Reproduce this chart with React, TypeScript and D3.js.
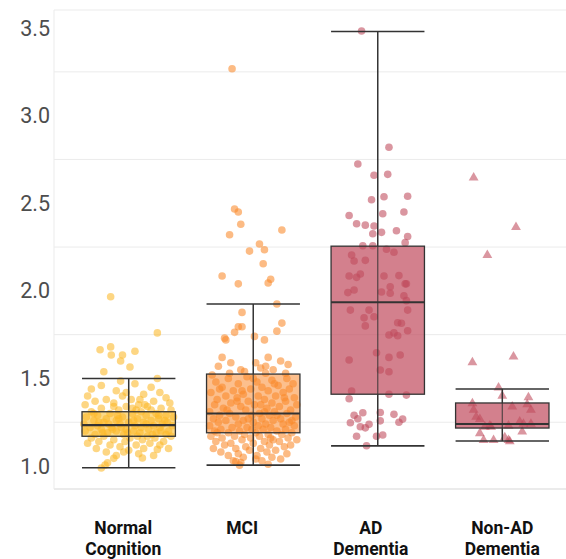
import React from "react";
import * as d3 from "d3";

// Diagnostic groups along the x axis
const categories = ["Normal Cognition", "MCI", "AD Dementia", "Non-AD Dementia"];
const labelLines = [["Normal", "Cognition"], ["MCI"], ["AD", "Dementia"], ["Non-AD", "Dementia"]];

// Box summaries per group: lower whisker, Q1, median, Q3, upper whisker
const whiskerLow = [0.99, 1.005, 1.115, 1.143];
const q1 = [1.17, 1.19, 1.41, 1.217];
const median = [1.234, 1.30, 1.935, 1.24];
const q3 = [1.31, 1.525, 2.255, 1.36];
const whiskerHigh = [1.50, 1.925, 3.48, 1.44];

const yTicks = [1.0, 1.5, 2.0, 2.5, 3.0, 3.5];
const yGrid = [1.25, 1.75, 2.25, 2.75, 3.25];

// Individual observations: [horizontal jitter (fraction of category step), value]
const normalPts: [number, number][] = [
  [-0.145, 1.966], [0.23, 1.76], [-0.145, 1.68], [-0.23, 1.664], [0.05, 1.655], [-0.14, 1.634],
  [-0.05, 1.634], [-0.065, 1.60], [0.01, 1.565], [-0.2, 1.538], [0.23, 1.50], [-0.065, 1.485],
  [0.23, 1.095], [0.11, 1.046], [-0.12, 1.044], [-0.17, 1.019], [-0.22, 0.989], [-0.19, 1.005],
  [-0.30, 1.44], [-0.22, 1.46], [0.05, 1.47], [0.18, 1.45], [-0.10, 1.43], [0.25, 1.42], [-0.33, 1.40],
  [0.12, 1.41], [-0.05, 1.40], [0.30, 1.39], [-0.18, 1.38], [0.02, 1.38], [0.20, 1.37], [-0.27, 1.37],
  [0.33, 1.36], [-0.12, 1.36], [0.08, 1.35], [-0.35, 1.35], [0.15, 1.34], [-0.02, 1.34], [0.26, 1.33],
  [-0.22, 1.33], [0.34, 1.32], [-0.08, 1.32], [0.10, 1.31], [-0.30, 1.31], [0.22, 1.30], [-0.15, 1.30],
  [0.03, 1.30], [0.30, 1.29], [-0.25, 1.29], [0.14, 1.29], [-0.05, 1.28], [0.36, 1.28], [-0.34, 1.28],
  [0.07, 1.27], [-0.18, 1.27], [0.24, 1.27], [-0.10, 1.26], [0.18, 1.26], [-0.28, 1.26], [0.31, 1.25],
  [0.00, 1.25], [-0.20, 1.25], [0.12, 1.25], [-0.36, 1.24], [0.27, 1.24], [-0.07, 1.24], [0.05, 1.23],
  [-0.25, 1.23], [0.20, 1.23], [0.35, 1.23], [-0.14, 1.22], [0.10, 1.22], [-0.31, 1.22], [0.25, 1.22],
  [-0.02, 1.21], [0.16, 1.21], [-0.22, 1.21], [0.32, 1.20], [-0.10, 1.20], [0.04, 1.20], [-0.35, 1.20],
  [0.22, 1.19], [-0.17, 1.19], [0.09, 1.19], [0.30, 1.18], [-0.27, 1.18], [-0.04, 1.18], [0.15, 1.17],
  [-0.20, 1.17], [0.34, 1.17], [0.01, 1.16], [-0.30, 1.16], [0.21, 1.16], [-0.12, 1.15], [0.11, 1.15],
  [0.28, 1.14], [-0.24, 1.14], [-0.03, 1.14], [0.17, 1.13], [-0.33, 1.13], [0.06, 1.12], [-0.15, 1.12],
  [0.25, 1.12], [-0.07, 1.11], [0.12, 1.10], [-0.26, 1.10], [0.32, 1.10], [0.00, 1.09], [-0.18, 1.08],
  [0.08, 1.07], [-0.10, 1.06], [0.20, 1.06], [-0.04, 1.08], [0.03, 1.33], [-0.08, 1.27], [0.14, 1.24],
  [-0.16, 1.24], [0.26, 1.20], [-0.28, 1.30], [0.18, 1.32], [-0.12, 1.34], [0.09, 1.38], [-0.02, 1.42],
  [0.29, 1.26], [-0.06, 1.22], [0.07, 1.17], [-0.21, 1.19], [0.24, 1.29], [-0.09, 1.29], [0.04, 1.26],
  [-0.13, 1.21], [0.19, 1.18], [-0.01, 1.19], [0.13, 1.35], [-0.24, 1.25], [0.06, 1.32],
];

const mciPts: [number, number][] = [
  [-0.17, 3.268], [-0.15, 2.467], [-0.12, 2.45], [-0.10, 2.38], [-0.19, 2.32], [0.23, 2.347], [0.05, 2.267],
  [0.09, 2.235], [-0.03, 2.227], [0.08, 2.155], [-0.25, 2.085], [0.14, 2.066], [0.12, 2.045], [-0.12, 2.04],
  [0.19, 1.925], [-0.09, 1.877], [0.23, 1.816], [-0.12, 1.795], [-0.09, 1.795], [-0.15, 1.763], [0.19, 1.77],
  [-0.23, 1.73], [0.01, 1.74], [0.09, 1.72], [-0.22, 1.72], [-0.25, 1.62], [0.12, 1.62], [-0.18, 1.59],
  [0.02, 1.59], [0.22, 1.60], [-0.10, 1.55], [0.06, 1.56], [0.16, 1.55], [-0.28, 1.57], [0.28, 1.58],
  [-0.33, 1.52], [0.10, 1.53], [-0.05, 1.51], [0.27, 1.50], [-0.20, 1.50], [0.15, 1.49], [-0.30, 1.48],
  [0.03, 1.48], [0.32, 1.47], [-0.12, 1.47], [0.20, 1.46], [-0.25, 1.45], [0.07, 1.45], [-0.02, 1.44],
  [0.29, 1.44], [-0.16, 1.43], [0.12, 1.43], [-0.34, 1.42], [0.24, 1.42], [-0.08, 1.41], [0.04, 1.40],
  [-0.22, 1.40], [0.18, 1.40], [0.33, 1.39], [-0.13, 1.39], [-0.29, 1.38], [0.09, 1.38], [0.26, 1.37],
  [-0.04, 1.37], [-0.18, 1.36], [0.15, 1.36], [0.35, 1.35], [-0.31, 1.35], [0.01, 1.35], [0.21, 1.34],
  [-0.10, 1.34], [-0.24, 1.33], [0.11, 1.33], [0.30, 1.32], [-0.06, 1.32], [-0.35, 1.31], [0.17, 1.31],
  [0.05, 1.30], [-0.19, 1.30], [0.27, 1.30], [-0.01, 1.29], [-0.27, 1.29], [0.13, 1.29], [0.34, 1.28],
  [-0.14, 1.28], [0.07, 1.27], [-0.32, 1.27], [0.22, 1.27], [-0.08, 1.26], [0.16, 1.26], [-0.22, 1.26],
  [0.29, 1.25], [0.00, 1.25], [-0.28, 1.25], [0.10, 1.24], [-0.12, 1.24], [0.24, 1.24], [-0.35, 1.23],
  [0.04, 1.23], [0.33, 1.23], [-0.17, 1.22], [0.14, 1.22], [-0.05, 1.22], [0.26, 1.21], [-0.26, 1.21],
  [0.08, 1.21], [-0.11, 1.20], [0.19, 1.20], [-0.31, 1.20], [0.02, 1.19], [0.31, 1.19], [-0.20, 1.19],
  [0.12, 1.18], [-0.07, 1.18], [0.23, 1.18], [-0.34, 1.17], [0.05, 1.17], [-0.15, 1.17], [0.28, 1.16],
  [-0.02, 1.16], [-0.25, 1.16], [0.16, 1.15], [-0.09, 1.15], [0.35, 1.15], [-0.30, 1.14], [0.09, 1.14],
  [0.21, 1.14], [-0.18, 1.13], [0.00, 1.13], [0.30, 1.12], [-0.23, 1.12], [0.13, 1.12], [-0.06, 1.11],
  [0.25, 1.11], [-0.32, 1.10], [0.06, 1.10], [-0.14, 1.10], [0.18, 1.09], [-0.03, 1.09], [-0.26, 1.08],
  [0.11, 1.08], [0.27, 1.07], [-0.12, 1.07], [0.03, 1.06], [-0.20, 1.06], [0.15, 1.05], [-0.08, 1.05],
  [0.22, 1.04], [-0.16, 1.03], [0.07, 1.03], [-0.10, 1.02], [-0.14, 1.025], [-0.11, 1.005], [0.12, 1.01],
  [0.02, 1.04], [-0.04, 1.27], [0.06, 1.35], [-0.09, 1.43], [0.19, 1.29], [-0.21, 1.32], [0.31, 1.26],
  [-0.29, 1.19], [0.14, 1.16], [-0.01, 1.21], [0.09, 1.31], [-0.13, 1.37], [0.25, 1.39], [-0.27, 1.44],
  [0.17, 1.47], [0.00, 1.50], [-0.07, 1.54], [0.10, 1.57], [-0.19, 1.53], [0.26, 1.53],
];

const adPts: [number, number][] = [
  [-0.13, 3.483], [0.09, 2.82], [-0.16, 2.724], [-0.03, 2.66], [0.08, 2.665], [0.05, 2.537], [0.24, 2.54],
  [-0.05, 2.52], [-0.23, 2.43], [0.04, 2.44], [0.21, 2.45], [-0.17, 2.383], [-0.10, 2.375], [-0.03, 2.37],
  [-0.04, 2.326], [0.03, 2.334], [0.15, 2.343], [0.24, 2.31], [0.22, 2.275], [-0.12, 2.257], [-0.04, 2.257],
  [0.07, 2.237], [0.13, 2.22], [-0.21, 2.204], [-0.19, 2.17], [-0.10, 2.174], [-0.23, 2.085], [-0.17, 2.077],
  [-0.14, 2.096], [0.05, 2.085], [0.17, 2.087], [0.10, 2.023], [0.22, 2.04], [0.23, 2.04], [-0.24, 1.99],
  [-0.19, 2.005], [0.03, 1.993], [0.10, 1.986], [0.21, 1.972], [0.23, 1.944], [-0.22, 1.89], [-0.07, 1.89],
  [0.24, 1.89], [-0.11, 1.846], [-0.03, 1.852], [-0.10, 1.80], [0.16, 1.818], [0.19, 1.815], [0.24, 1.772],
  [0.13, 1.76], [0.09, 1.748], [0.16, 1.744], [-0.01, 1.647], [0.09, 1.62], [0.18, 1.634], [-0.23, 1.605],
  [0.02, 1.548], [0.09, 1.538], [-0.21, 1.428], [-0.23, 1.384], [0.09, 1.41], [0.23, 1.405], [-0.12, 1.304],
  [-0.19, 1.29], [-0.16, 1.27], [0.02, 1.306], [0.13, 1.295], [-0.22, 1.247], [-0.07, 1.238], [-0.14, 1.224],
  [-0.10, 1.218], [0.02, 1.258], [0.20, 1.268], [0.17, 1.25], [-0.17, 1.17], [-0.01, 1.17], [0.04, 1.177],
  [-0.09, 1.116],
];

const nonAdPts: [number, number][] = [
  [-0.23, 2.646], [0.11, 2.364], [-0.12, 2.204], [-0.24, 1.592], [0.09, 1.624], [-0.03, 1.447], [0.0, 1.40],
  [0.21, 1.392], [-0.24, 1.358], [0.08, 1.339], [0.20, 1.352], [0.23, 1.32], [-0.23, 1.32], [-0.21, 1.281],
  [-0.18, 1.267], [-0.10, 1.23], [-0.14, 1.224], [-0.09, 1.224], [0.05, 1.23], [0.14, 1.253], [0.17, 1.24],
  [0.23, 1.24], [-0.18, 1.187], [0.16, 1.196], [-0.15, 1.148], [-0.07, 1.148], [0.02, 1.164], [0.05, 1.148],
  [0.06, 1.14],
];

const groupPoints = [normalPts, mciPts, adPts, nonAdPts];
const pointColors = ["#FBB829", "#F98A2B", "#C04A5C", "#C04A5C"];
const boxFills = ["#FCC445", "#F98B2F", "#C04A5C", "#C04A5C"];
const boxOpacity = [0.65, 0.55, 0.7, 0.7];
const triangleGroup = [false, false, false, true];

const W = 566;
const H = 559;
const panel = { left: 54, right: 577, top: 10, bottom: 489 };
const FONT = "Roboto, 'Helvetica Neue', Arial, sans-serif";
// horizontal nudge (px) of each category label relative to its box centre
const labelNudge = [-5.5, -11, -7, 0];

export default function App() {
  const x = d3
    .scalePoint<string>()
    .domain(categories)
    .range([panel.left, panel.right])
    .padding(0.6);
  const step = x.step();
  const boxW = step * 0.75;

  const y = d3.scaleLinear().domain([0.869, 3.603]).range([panel.bottom, panel.top]);

  const tri = d3.symbol().type(d3.symbolTriangle).size(42)();
  const lineColor = "#333333";

  return (
    <svg
      width={W}
      height={H}
      style={{ position: "absolute", left: 0, top: 0, background: "#fff" }}
      fontFamily={FONT}
    >
      {/* grid */}
      {yGrid.map((g) => (
        <line key={g} x1={panel.left} x2={W} y1={y(g)} y2={y(g)} stroke="#ebebeb" strokeWidth={1} />
      ))}
      <line x1={panel.left} x2={W} y1={panel.top} y2={panel.top} stroke="#ebebeb" strokeWidth={1} />
      <line x1={panel.left} x2={W} y1={panel.bottom} y2={panel.bottom} stroke="#e4e4e4" strokeWidth={1.3} />
      <line x1={panel.left} x2={panel.left} y1={panel.top} y2={panel.bottom} stroke="#ebebeb" strokeWidth={1} />

      {/* y tick labels */}
      {yTicks.map((t) => (
        <text
          key={t}
          x={50}
          y={y(t)}
          textAnchor="end"
          dominantBaseline="central"
          fontSize={21.5}
          fill="#4d4d4d"
        >
          {t.toFixed(1)}
        </text>
      ))}

      {/* box fills */}
      {categories.map((c, i) => {
        const cx = x(c)!;
        return (
          <rect
            key={"fill" + c}
            x={cx - boxW / 2}
            y={y(q3[i])}
            width={boxW}
            height={y(q1[i]) - y(q3[i])}
            fill={boxFills[i]}
            fillOpacity={boxOpacity[i]}
          />
        );
      })}

      {/* jittered observations */}
      {categories.map((c, i) => {
        const cx = x(c)!;
        return (
          <g key={"pts" + c} fill={pointColors[i]} fillOpacity={0.58}>
            {groupPoints[i].map(([j, v], k) =>
              triangleGroup[i] ? (
                <path key={k} d={tri!} transform={`translate(${cx + j * step},${y(v)})`} />
              ) : (
                <circle key={k} cx={cx + j * step} cy={y(v)} r={3.8} />
              )
            )}
          </g>
        );
      })}

      {/* box and whisker outlines */}
      {categories.map((c, i) => {
        const cx = x(c)!;
        const x0 = cx - boxW / 2;
        const x1 = cx + boxW / 2;
        return (
          <g key={"box" + c} stroke={lineColor} fill="none">
            <line x1={cx} x2={cx} y1={y(whiskerHigh[i])} y2={y(q3[i])} strokeWidth={1.5} />
            <line x1={cx} x2={cx} y1={y(q1[i])} y2={y(whiskerLow[i])} strokeWidth={1.5} />
            <line x1={cx} x2={cx} y1={y(q3[i])} y2={y(q1[i])} strokeWidth={1.2} strokeOpacity={0.8} />
            <line x1={x0} x2={x1} y1={y(whiskerHigh[i])} y2={y(whiskerHigh[i])} strokeWidth={1.6} />
            <line x1={x0} x2={x1} y1={y(whiskerLow[i])} y2={y(whiskerLow[i])} strokeWidth={1.6} />
            <rect x={x0} y={y(q3[i])} width={boxW} height={y(q1[i]) - y(q3[i])} strokeWidth={1.3} />
            <line x1={x0} x2={x1} y1={y(median[i])} y2={y(median[i])} strokeWidth={2.2} />
          </g>
        );
      })}

      {/* category labels */}
      {categories.map((c, i) => {
        const lx = x(c)! + labelNudge[i];
        return (
          <text key={"lab" + c} x={lx} y={534} textAnchor="middle" fontSize={17.5} fontWeight={700} fill="#111">
            {labelLines[i].map((ln, k) => (
              <tspan key={k} x={lx} dy={k === 0 ? 0 : 21}>
                {ln}
              </tspan>
            ))}
          </text>
        );
      })}
    </svg>
  );
}
